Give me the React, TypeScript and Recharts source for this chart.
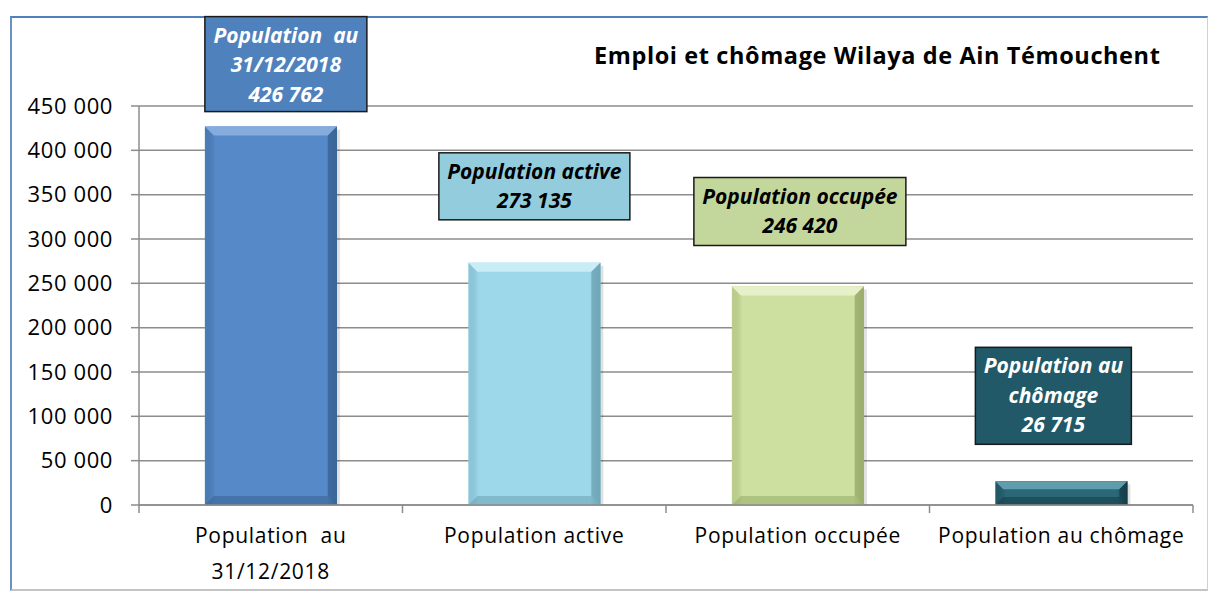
import React from "react";
import { BarChart, Bar, XAxis, YAxis, CartesianGrid, LabelList } from "recharts";

// values
const categories = ["Population au 31/12/2018", "Population active", "Population occupée", "Population au chômage"];
const values = [426762, 273135, 246420, 26715];
const yTicks = [0, 50000, 100000, 150000, 200000, 250000, 300000, 350000, 400000, 450000];
// how the category names wrap under the axis
const categoryLines = [["Population  au", "31/12/2018"], ["Population active"], ["Population occupée"], ["Population au chômage"]];
// caption text above each bar (value line is appended)
const captionLines = [["Population  au", "31/12/2018"], ["Population active"], ["Population occupée"], ["Population au", "chômage"]];

const TITLE = "Emploi et chômage Wilaya de Ain Témouchent";
const FONT = "'Open Sans', 'Noto Sans', sans-serif";
const GRID = "#8c8c8c";

const data = categories.map((name, i) => ({ name, value: values[i] }));

const fmt = (v: number) => String(v).replace(/\B(?=(\d{3})+(?!\d))/g, " ");

// bar look: main fill, light bevel, dark bevel
const BAR_LOOK = [
  { main: "#5689c8", light: "#86acdd", dark: "#3a6597" },
  { main: "#9dd8ea", light: "#c8edf7", dark: "#6fa6b8" },
  { main: "#cde0a0", light: "#e7f1c9", dark: "#9aad6c" },
  { main: "#2a6878", light: "#5f9cac", dark: "#173f4a" },
];

// caption boxes: offset from bar centre, gap above bar top, size, colours
const BOX = [
  { dx: 15, gap: 15, w: 162, h: 95, fill: "#4f81bd", ink: "#ffffff" },
  { dx: 0, gap: 43, w: 191, h: 67, fill: "#93cddd", ink: "#000000" },
  { dx: 2, gap: 41, w: 212, h: 68, fill: "#c3d69b", ink: "#000000" },
  { dx: -8, gap: 37, w: 156, h: 97, fill: "#215968", ink: "#ffffff" },
];

function BevelBar(props: any) {
  const { x, y, width, height, index } = props;
  if (!height || height <= 0) return null;
  const c = BAR_LOOK[index];
  const b = Math.min(9, height / 3);
  const id = `bg${index}`;
  return (
    <g>
      <defs>
        <linearGradient id={id} x1="0" y1="0" x2="1" y2="0">
          <stop offset="0%" stopColor={c.dark} stopOpacity={0.35} />
          <stop offset="8%" stopColor={c.main} />
          <stop offset="92%" stopColor={c.main} />
          <stop offset="100%" stopColor={c.dark} />
        </linearGradient>
      </defs>
      <rect x={x + 3} y={y + 3} width={width} height={height - 3} fill="rgba(0,0,0,0.12)" />
      <rect x={x} y={y} width={width} height={height} fill={c.main} />
      <rect x={x} y={y} width={width} height={height} fill={`url(#${id})`} />
      <polygon points={`${x},${y} ${x + width},${y} ${x + width - b},${y + b} ${x + b},${y + b}`} fill={c.light} />
      <polygon points={`${x},${y + height} ${x + width},${y + height} ${x + width - b},${y + height - b} ${x + b},${y + height - b}`} fill={c.dark} opacity={0.6} />
      <polygon points={`${x + width},${y} ${x + width},${y + height} ${x + width - b},${y + height - b} ${x + width - b},${y + b}`} fill={c.dark} opacity={0.8} />
    </g>
  );
}

function Caption(props: any) {
  const vb = props.viewBox ?? props;
  const { x, y, width } = vb;
  const i = props.index;
  const s = BOX[i];
  const cx = x + width / 2 + s.dx;
  const bottom = y - s.gap;
  const top = bottom - s.h;
  const lines = [...captionLines[i], fmt(values[i])];
  return (
    <g>
      <rect x={cx - s.w / 2} y={top} width={s.w} height={s.h} fill={s.fill} stroke="#1a1a1a" strokeWidth={1.5} />
      <text textAnchor="middle" fill={s.ink} style={{ fontFamily: FONT, fontSize: 21, fontWeight: 700, fontStyle: "italic" }}>
        {lines.map((t, k) => (
          <tspan key={k} x={cx} y={top + 26 + k * 29.5} style={{ whiteSpace: "pre" }}>{t}</tspan>
        ))}
      </text>
    </g>
  );
}

function CatTick(props: any) {
  const { x, y, payload, index } = props;
  const half = payload?.offset ?? 131.75;
  const axisY = y - 8;
  const lines = categoryLines[index] ?? [payload.value];
  return (
    <g>
      <line x1={x - half} x2={x - half} y1={axisY} y2={axisY + 8} stroke={GRID} strokeWidth={1.5} />
      {index === categories.length - 1 && (
        <line x1={x + half} x2={x + half} y1={axisY} y2={axisY + 8} stroke={GRID} strokeWidth={1.5} />
      )}
      <text textAnchor="middle" fill="#000" style={{ fontFamily: FONT, fontSize: 21, letterSpacing: 0.7 }}>
        {lines.map((t, k) => (
          <tspan key={k} x={x} y={axisY + 38 + k * 36} style={{ whiteSpace: "pre" }}>{t}</tspan>
        ))}
      </text>
    </g>
  );
}

export default function App() {
  return (
    <div style={{ position: "absolute", left: 0, top: 0, width: 1209, height: 597, background: "#fff", fontFamily: FONT }}>
      <div
        style={{
          position: "absolute", left: 10, top: 16, width: 1195, height: 571,
          borderTop: "2px solid #4f81bd", borderLeft: "2px solid #6a90c4",
          borderRight: "1px solid #d0d0d0", borderBottom: "2px solid #c4c4c4",
        }}
      />
      <div style={{ position: "absolute", left: 594, top: 39, fontSize: 23.5, fontWeight: 700, color: "#000", whiteSpace: "nowrap", letterSpacing: 0.6 }}>
        {TITLE}
      </div>
      <div style={{ position: "absolute", left: 0, top: 0 }}>
        <BarChart width={1209} height={597} data={data} margin={{ top: 106, right: 16, bottom: 32, left: 59 }} barCategoryGap="25%">
          <CartesianGrid vertical={false} stroke={GRID} strokeWidth={1.5} />
          <XAxis
            dataKey="name"
            interval={0}
            height={60}
            tickLine={false}
            tickSize={8}
            tickMargin={0}
            axisLine={{ stroke: GRID, strokeWidth: 1.5 }}
            tick={CatTick as never}
          />
          <YAxis
            type="number"
            domain={[0, 450000]}
            ticks={yTicks}
            interval={0}
            width={80}
            tickSize={8}
            tickMargin={18}
            tickFormatter={fmt}
            axisLine={{ stroke: GRID, strokeWidth: 1.5 }}
            tickLine={{ stroke: GRID, strokeWidth: 1.5 }}
            tick={{ fontSize: 22, fill: "#000", fontFamily: FONT, letterSpacing: 0.6 }}
          />
          <Bar dataKey="value" shape={BevelBar as never} isAnimationActive={false}>
            <LabelList dataKey="value" content={Caption as never} />
          </Bar>
        </BarChart>
      </div>
    </div>
  );
}
